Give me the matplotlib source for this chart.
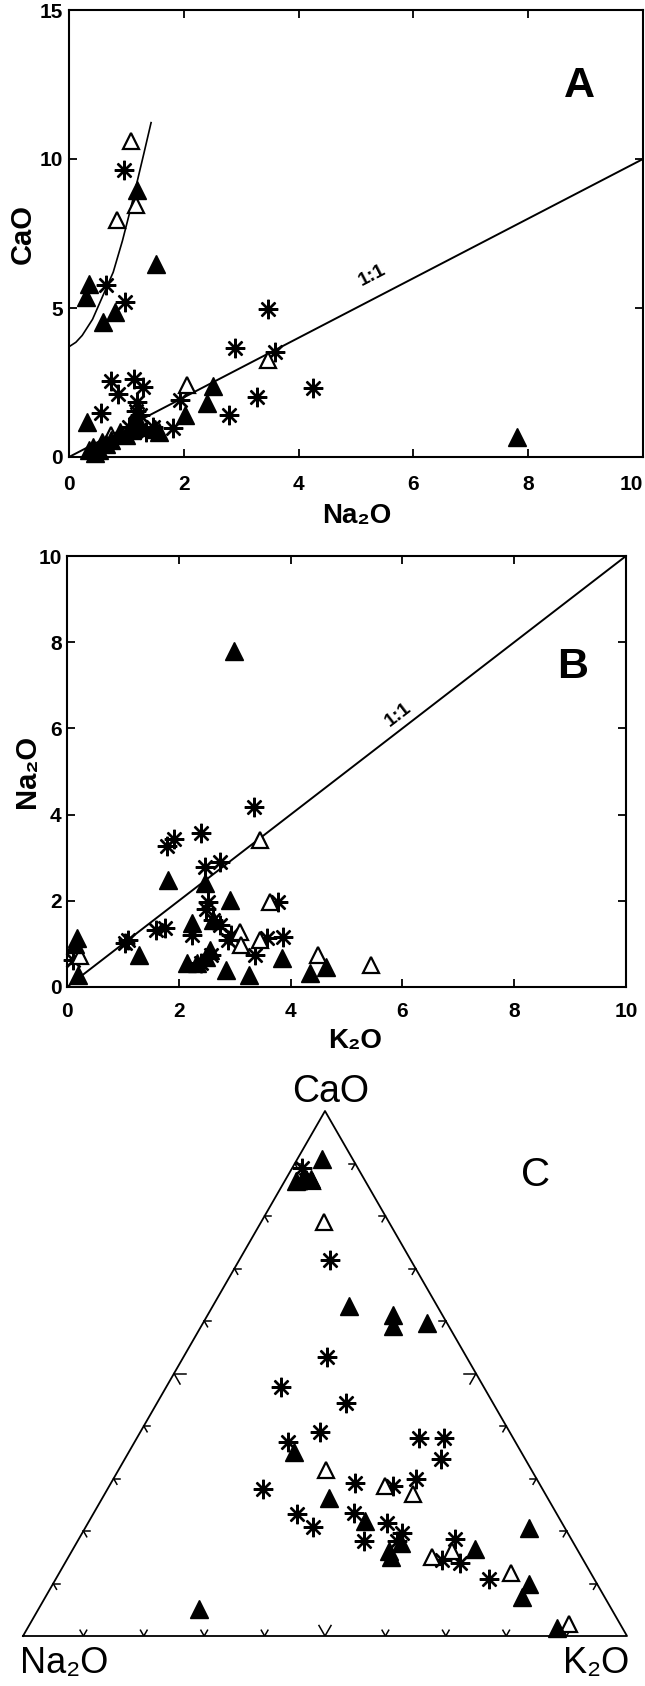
import numpy as np
import matplotlib
matplotlib.use('Agg')
import matplotlib.pyplot as plt

plt.rcParams['font.family'] = ['Liberation Sans', 'DejaVu Sans']
plt.rcParams['font.weight'] = 'bold'

# ---------------- Panel A : CaO vs Na2O ----------------
a_fill_na = [1.18, 1.51, 0.34, 0.30, 0.80, 0.60, 0.31, 2.51, 2.40, 2.02, 7.81, 1.56, 1.15,
             1.09, 1.00, 0.74, 0.57, 0.42, 0.34, 0.45, 0.65, 1.50, 0.88, 0.52, 1.25]
a_fill_ca = [8.96, 6.48, 5.80, 5.36, 4.85, 4.54, 1.19, 2.38, 1.80, 1.41, 0.68, 0.85, 1.30,
             0.91, 0.74, 0.57, 0.51, 0.35, 0.23, 0.12, 0.45, 0.95, 0.85, 0.25, 1.00]
a_open_na = [1.08, 1.16, 0.84, 3.47, 2.06, 0.73]
a_open_ca = [10.6, 8.46, 7.95, 3.26, 2.40, 0.74]
a_star_na = [0.95, 0.65, 0.98, 3.47, 2.89, 3.59, 4.25, 3.28, 2.78, 0.73, 0.85, 0.55, 1.13,
             1.29, 1.19, 1.93, 1.82, 1.47, 1.24, 1.35, 1.16, 1.05]
a_star_ca = [9.64, 5.77, 5.20, 4.97, 3.65, 3.53, 2.33, 2.02, 1.41, 2.55, 2.10, 1.47, 2.62,
             2.36, 1.86, 1.91, 0.96, 1.02, 1.41, 0.85, 1.55, 1.00]
a_curve_na = [0.0, 0.12, 0.23, 0.41, 0.59, 0.77, 0.93, 1.05, 1.16, 1.30, 1.43]
a_curve_ca = [3.70, 3.85, 4.08, 4.62, 5.41, 6.20, 7.25, 8.15, 9.02, 10.15, 11.22]
a_xticks = [0, 2, 4, 6, 8, 10]
a_yticks = [0, 5, 10, 15]

# ---------------- Panel B : Na2O vs K2O ----------------
b_fill_k = [2.98, 1.81, 2.46, 2.91, 2.24, 1.29, 0.17, 0.15, 0.20, 2.85, 3.26, 3.85, 4.35,
            4.64, 2.14, 2.32, 2.49, 2.55, 2.61]
b_fill_na = [7.79, 2.48, 2.41, 2.02, 1.48, 0.74, 1.13, 1.00, 0.28, 0.39, 0.28, 0.67, 0.32,
             0.47, 0.55, 0.55, 0.70, 0.85, 1.55]
b_open_k = [3.46, 3.63, 3.09, 3.12, 3.45, 4.49, 5.44, 0.24]
b_open_na = [3.41, 1.98, 1.28, 0.97, 1.09, 0.74, 0.51, 0.72]
b_star_k = [3.35, 2.39, 1.92, 1.79, 2.46, 2.73, 2.52, 2.49, 3.77, 1.60, 1.75, 1.10, 1.04,
            2.23, 2.61, 2.73, 2.94, 2.88, 3.57, 3.86, 3.36, 0.11, 2.40, 2.58]
b_star_na = [4.17, 3.58, 3.43, 3.26, 2.79, 2.91, 1.98, 1.82, 1.98, 1.32, 1.36, 1.09, 1.02,
             1.21, 1.55, 1.44, 1.21, 1.10, 1.13, 1.17, 0.74, 0.63, 0.55, 0.75]
b_ticks = [0, 2, 4, 6, 8, 10]

# ---------------- Panel C : ternary CaO - Na2O - K2O (%) ----------------
c_fill_ca = [90.8, 86.6, 87.4, 87.0, 62.9, 61.1, 59.0, 59.7, 35.1, 26.2, 21.9, 16.1, 17.7,
             16.5, 20.5, 10.0, 7.5, 1.6, 5.1, 15.0]
c_fill_na = [5.1, 11.5, 9.7, 8.9, 14.6, 8.2, 9.3, 3.3, 37.6, 36.2, 32.4, 31.4, 28.6,
             16.9, 5.9, 11.3, 13.7, 10.8, 68.3, 31.5]
c_fill_k = [4.1, 1.9, 2.9, 4.1, 22.5, 30.7, 31.7, 37.0, 27.3, 37.6, 45.7, 52.5, 53.7,
            66.6, 73.6, 78.7, 78.8, 87.6, 26.6, 53.5]
c_open_ca = [78.9, 31.6, 28.6, 27.0, 15.1, 12.0, 2.3, 16.1, 86.6]
c_open_na = [10.7, 34.0, 25.8, 22.0, 24.8, 13.2, 8.5, 20.9, 8.8]
c_open_k = [10.4, 34.4, 45.6, 51.0, 60.1, 74.8, 89.2, 63.0, 4.6]
c_star_ca = [71.6, 53.1, 47.5, 44.4, 38.9, 37.0, 37.7, 37.7, 33.7, 30.0, 28.6, 29.2, 28.0,
             23.2, 20.7, 23.5, 18.1, 21.6, 19.7, 18.5, 14.4, 14.0, 10.8, 89.1, 86.8, 18.1]
c_star_na = [13.4, 23.2, 33.5, 24.4, 31.4, 37.6, 15.6, 11.4, 13.9, 20.0, 24.5, 30.4, 46.2,
             43.0, 41.7, 33.4, 34.5, 29.0, 27.4, 19.3, 23.4, 20.7, 17.4, 9.2, 9.7, 29.1]
c_star_k = [15.0, 23.7, 19.0, 31.2, 29.7, 25.4, 46.7, 50.9, 52.4, 50.0, 46.9, 40.4, 25.8,
            33.8, 37.6, 43.1, 47.4, 49.4, 52.9, 62.2, 62.2, 65.3, 71.8, 1.7, 3.5, 52.8]
c_tick_fracs = [0.1, 0.2, 0.3, 0.4, 0.5, 0.6, 0.7, 0.8, 0.9]

# ---------------- styles ----------------
FILL = dict(ls='none', marker='^', ms=13, mfc='black', mec='black', mew=1.0, clip_on=False)
OPEN = dict(ls='none', marker='^', ms=12, mfc='white', mec='black', mew=1.6, clip_on=False)
STAR = dict(ls='none', marker=(8, 2, 0), ms=14, mec='black', mew=1.7, clip_on=False)

W, H = 645, 1686
fig = plt.figure(figsize=(W / 100, H / 100), dpi=100)


def frac_box(l, r, t, b):
    return [l / W, 1 - b / H, (r - l) / W, (b - t) / H]


def style_axes(ax, xpad, ypad):
    for s in ax.spines.values():
        s.set_linewidth(1.5)
    ax.tick_params(direction='in', length=6, width=1.3, top=True, right=True,
                   labelsize=15)
    ax.tick_params(axis='x', pad=xpad)
    ax.tick_params(axis='y', pad=ypad)


# Panel A
axA = fig.add_axes(frac_box(69, 643, 10, 457))
axA.plot([0, 10], [0, 10], color='black', lw=1.4)
axA.plot(a_curve_na, a_curve_ca, color='black', lw=1.2)
axA.plot(a_star_na, a_star_ca, **STAR)
axA.plot(a_open_na, a_open_ca, **OPEN)
axA.plot(a_fill_na, a_fill_ca, **FILL)
axA.set_xlim(0, 10)
axA.set_ylim(0, 15)
axA.set_xticks(a_xticks)
axA.set_yticks(a_yticks)
style_axes(axA, 13, 4.5)
fig.canvas.draw()
axA.get_xticklabels()[-1].set_horizontalalignment('right')
axA.set_xlabel('Na₂O', fontsize=20, fontweight='bold')
axA.set_ylabel('CaO', fontsize=21, fontweight='bold')
axA.xaxis.set_label_coords(0.502, -0.103)
axA.yaxis.set_label_coords(-0.056, 0.5)
axA.text(5.28, 6.09, '1:1', rotation=45, transform_rotates_text=True,
         rotation_mode='anchor', ha='center', va='center', fontsize=14, fontweight='bold')
axA.text(8.9, 12.45, 'A', ha='center', va='center', fontsize=31, fontweight='bold')

# Panel B
axB = fig.add_axes(frac_box(67, 626, 556, 987))
axB.plot([0, 10], [0, 10], color='black', lw=1.4)
axB.plot(b_star_k, b_star_na, **STAR)
axB.plot(b_open_k, b_open_na, **OPEN)
axB.plot(b_fill_k, b_fill_na, **FILL)
axB.set_xlim(0, 10)
axB.set_ylim(0, 10)
axB.set_xticks(b_ticks)
axB.set_yticks(b_ticks)
style_axes(axB, 11, 3.8)
axB.set_xlabel('K₂O', fontsize=20, fontweight='bold')
axB.set_ylabel('Na₂O', fontsize=21, fontweight='bold')
axB.xaxis.set_label_coords(0.515, -0.095)
axB.yaxis.set_label_coords(-0.047, 0.5)
axB.text(5.93, 6.32, '1:1', rotation=45, transform_rotates_text=True,
         rotation_mode='anchor', ha='center', va='center', fontsize=14, fontweight='bold')
axB.text(9.05, 7.42, 'B', ha='center', va='center', fontsize=31, fontweight='bold')

# Panel C (ternary)
h = np.sqrt(3) / 2
axC = fig.add_axes(frac_box(23, 627, 1111, 1636))
axC.set_xlim(0, 1)
axC.set_ylim(0, h)
axC.axis('off')


def tern_xy(ca, na, k):
    ca = np.asarray(ca, float)
    na = np.asarray(na, float)
    k = np.asarray(k, float)
    tot = ca + na + k
    c, kk = ca / tot, k / tot
    return kk + c / 2, c * h


axC.plot([0, 1, 0.5, 0], [0, 0, h, 0], color='black', lw=1.3, clip_on=False)
d60 = np.array([0.5, h])
d120 = np.array([-0.5, h])
for t in c_tick_fracs:
    L = 0.02 if abs(t - 0.5) < 1e-9 else 0.011
    # bottom side
    p = np.array([t, 0.0])
    for d in (d60, d120):
        axC.plot([p[0], p[0] + L * d[0]], [p[1], p[1] + L * d[1]], color='black', lw=1.1)
    # left side
    p = np.array([t / 2, t * h])
    for d in (np.array([1.0, 0.0]), np.array([0.5, -h])):
        axC.plot([p[0], p[0] + L * d[0]], [p[1], p[1] + L * d[1]], color='black', lw=1.1)
    # right side
    p = np.array([1 - t / 2, t * h])
    for d in (np.array([-1.0, 0.0]), np.array([-0.5, -h])):
        axC.plot([p[0], p[0] + L * d[0]], [p[1], p[1] + L * d[1]], color='black', lw=1.1)

x, y = tern_xy(c_star_ca, c_star_na, c_star_k)
axC.plot(x, y, **STAR)
x, y = tern_xy(c_open_ca, c_open_na, c_open_k)
axC.plot(x, y, **OPEN)
x, y = tern_xy(c_fill_ca, c_fill_na, c_fill_k)
axC.plot(x, y, **FILL)

axC.text(0.51, 0.897, 'CaO', ha='center', va='center', fontsize=27, fontweight='normal')
axC.text(-0.005, -0.046, 'Na₂O', ha='left', va='center', fontsize=26, fontweight='normal')
axC.text(1.003, -0.046, 'K₂O', ha='right', va='center', fontsize=26, fontweight='normal')
axC.text(0.849, 0.760, 'C', ha='center', va='center', fontsize=29, fontweight='normal')

fig.savefig('out.png', dpi=100)
